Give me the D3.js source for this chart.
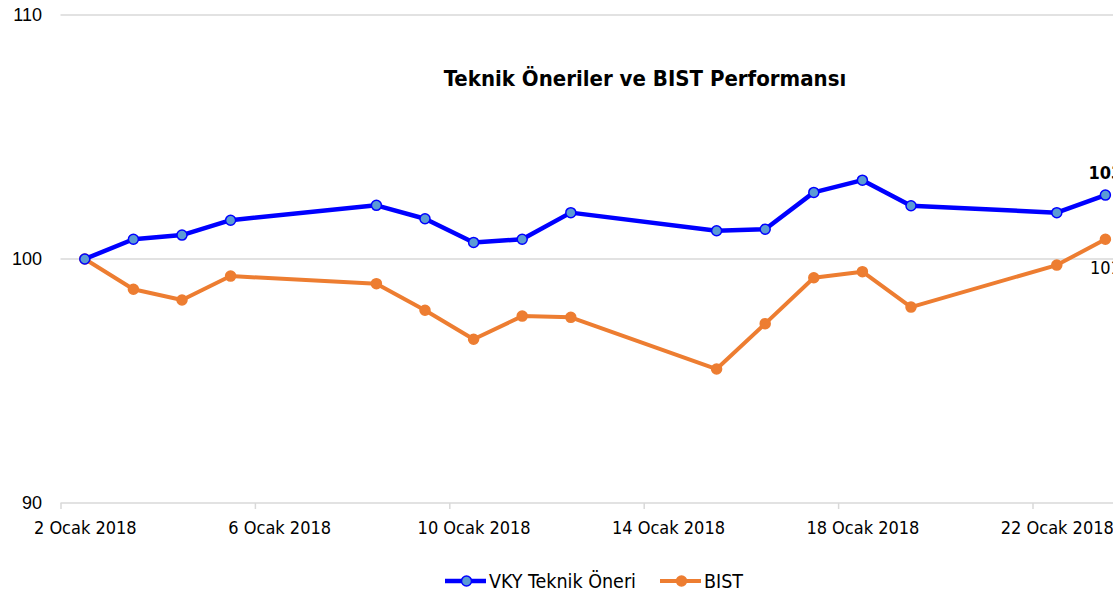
<!DOCTYPE html>
<html>
<head>
<meta charset="utf-8">
<script src="https://cdn.jsdelivr.net/npm/d3@7"></script>
<style>
  body { margin: 0; background: #fff; }
  svg { display: block; }
  text { font-family: "DejaVu Sans Condensed", "DejaVu Sans", sans-serif; fill: #000; }
</style>
</head>
<body>
<div id="wrapper"></div>
<script>
// trading days (January 2018)
const dates = ['2018-01-02', '2018-01-03', '2018-01-04', '2018-01-05', '2018-01-08',
  '2018-01-09', '2018-01-10', '2018-01-11', '2018-01-12', '2018-01-15', '2018-01-16',
  '2018-01-17', '2018-01-18', '2018-01-19', '2018-01-22', '2018-01-23']
const vkyValues = [100, 100.81, 100.98, 101.59, 102.2, 101.65, 100.68, 100.81, 101.9,
  101.16, 101.22, 102.73, 103.23, 102.18, 101.9, 102.62]
const bistValues = [100, 98.76, 98.32, 99.3, 98.99, 97.9, 96.71, 97.66, 97.61,
  95.49, 97.35, 99.23, 99.48, 98.03, 99.75, 100.81]
const seriesNames = ['VKY Teknik Öneri', 'BIST']
const yTicks = [90, 100, 110]
const xTickDates = ['2018-01-02', '2018-01-06', '2018-01-10', '2018-01-14', '2018-01-18', '2018-01-22']
const monthNames = ['Ocak', 'Şubat', 'Mart', 'Nisan', 'Mayıs', 'Haziran', 'Temmuz',
  'Ağustos', 'Eylül', 'Ekim', 'Kasım', 'Aralık']
const title = 'Teknik Öneriler ve BIST Performansı'

const drawChart = () => {
  const dms = {
    width: 1113,
    height: 593,
    margin: { top: 15, right: 0, bottom: 90, left: 60.5 }
  }
  dms.chartHeight = dms.height - dms.margin.top - dms.margin.bottom
  const dayWidth = 48.6

  const parse = d3.utcParse('%Y-%m-%d')
  const halfDay = 12 * 3600 * 1000
  const mid = d => new Date(parse(d).getTime() + halfDay)

  const wrapper = d3.select('#wrapper')
    .append('svg')
    .attr('width', dms.width)
    .attr('height', dms.height)

  const bounds = wrapper.append('g')
    .attr('transform', `translate(${dms.margin.left}, ${dms.margin.top})`)

  // date axis runs past the right edge (picture is cropped there)
  const xScale = d3.scaleUtc()
    .domain([parse('2018-01-02'), parse('2018-01-24')])
    .range([0, dayWidth * 22])
  const yScale = d3.scaleLinear()
    .domain([90, 110])
    .range([dms.chartHeight, 0])

  // gridlines
  bounds.append('g')
    .selectAll('line')
    .data(yTicks)
    .join('line')
    .attr('x1', 0)
    .attr('x2', dms.width)
    .attr('y1', d => yScale(d))
    .attr('y2', d => yScale(d))
    .attr('stroke', '#d9d9d9')
    .attr('stroke-width', 1.5)

  // y labels
  bounds.append('g')
    .selectAll('text')
    .data(yTicks)
    .join('text')
    .attr('x', -18.5)
    .attr('y', d => yScale(d))
    .attr('dy', '0.36em')
    .attr('text-anchor', 'end')
    .style('font-family', '"Liberation Sans", Arial, sans-serif')
    .style('font-size', '18px')
    .text(d => d)

  // x axis: ticks at day boundaries, labels in the middle of the day
  const xAxisGenerator = d3.axisBottom(xScale)
    .tickValues(xTickDates.map(parse))
    .tickSize(6)
    .tickFormat(d => `${d.getUTCDate()} ${monthNames[d.getUTCMonth()]} ${d.getUTCFullYear()}`)
  const xAxis = bounds.append('g')
    .attr('transform', `translate(0, ${dms.chartHeight})`)
    .call(xAxisGenerator)
  xAxis.select('.domain').remove()
  xAxis.selectAll('.tick line')
    .attr('stroke', '#d9d9d9')
    .attr('stroke-width', 1.5)
  xAxis.selectAll('.tick text')
    .attr('x', dayWidth / 2)
    .attr('y', 18)
    .style('font-size', '18px')
    .style('font-family', '"DejaVu Sans Condensed", "DejaVu Sans", sans-serif')
    .attr('fill', '#000')

  const series = [
    { name: seriesNames[0], values: vkyValues, stroke: '#0000ff', fill: '#5b9bd5', width: 4.5 },
    { name: seriesNames[1], values: bistValues, stroke: '#ed7d31', fill: '#ed7d31', width: 4 }
  ]

  const lineGenerator = d3.line()
    .x(d => xScale(mid(d.date)))
    .y(d => yScale(d.value))

  // BIST drawn first so the blue series sits on top
  series.slice().reverse().forEach(s => {
    const pts = dates.map((date, i) => ({ date, value: s.values[i] }))
    const g = bounds.append('g')
    g.append('path')
      .datum(pts)
      .attr('d', lineGenerator)
      .attr('fill', 'none')
      .attr('stroke', s.stroke)
      .attr('stroke-width', s.width)
      .attr('stroke-linejoin', 'round')
    g.selectAll('circle')
      .data(pts)
      .join('circle')
      .attr('cx', d => xScale(mid(d.date)))
      .attr('cy', d => yScale(d.value))
      .attr('r', 5)
      .attr('fill', s.fill)
      .attr('stroke', s.stroke)
      .attr('stroke-width', 1.5)
  })

  // end labels
  const last = dates.length - 1
  bounds.append('text')
    .attr('x', xScale(mid(dates[last])))
    .attr('y', yScale(vkyValues[last]) - 16)
    .attr('text-anchor', 'middle')
    .style('font-size', '18px')
    .style('font-weight', 'bold')
    .text(d3.format('.0f')(vkyValues[last]))
  bounds.append('text')
    .attr('x', xScale(mid(dates[last])))
    .attr('y', yScale(bistValues[last]) + 35)
    .attr('text-anchor', 'middle')
    .style('font-size', '18px')
    .text(d3.format('.0f')(bistValues[last]))

  // title
  wrapper.append('text')
    .attr('x', 645)
    .attr('y', 86)
    .attr('text-anchor', 'middle')
    .style('font-size', '22px')
    .style('font-weight', 'bold')
    .text(title)

  // legend
  const legend = wrapper.append('g')
    .attr('transform', 'translate(445, 581)')
  const legendItems = [
    { x: 0, name: seriesNames[0], s: series[0] },
    { x: 215, name: seriesNames[1], s: series[1] }
  ]
  legendItems.forEach(item => {
    const g = legend.append('g').attr('transform', `translate(${item.x}, 0)`)
    g.append('line')
      .attr('x1', 0).attr('x2', 41)
      .attr('y1', 0).attr('y2', 0)
      .attr('stroke', item.s.stroke)
      .attr('stroke-width', item.s.width)
    g.append('circle')
      .attr('cx', 21.5).attr('cy', 0).attr('r', 5)
      .attr('fill', item.s.fill)
      .attr('stroke', item.s.stroke)
      .attr('stroke-width', 1.5)
    g.append('text')
      .attr('x', 44)
      .attr('y', 0)
      .attr('dy', '0.36em')
      .style('font-size', '19.5px')
      .text(item.name)
  })
}

drawChart()
</script>
</body>
</html>
